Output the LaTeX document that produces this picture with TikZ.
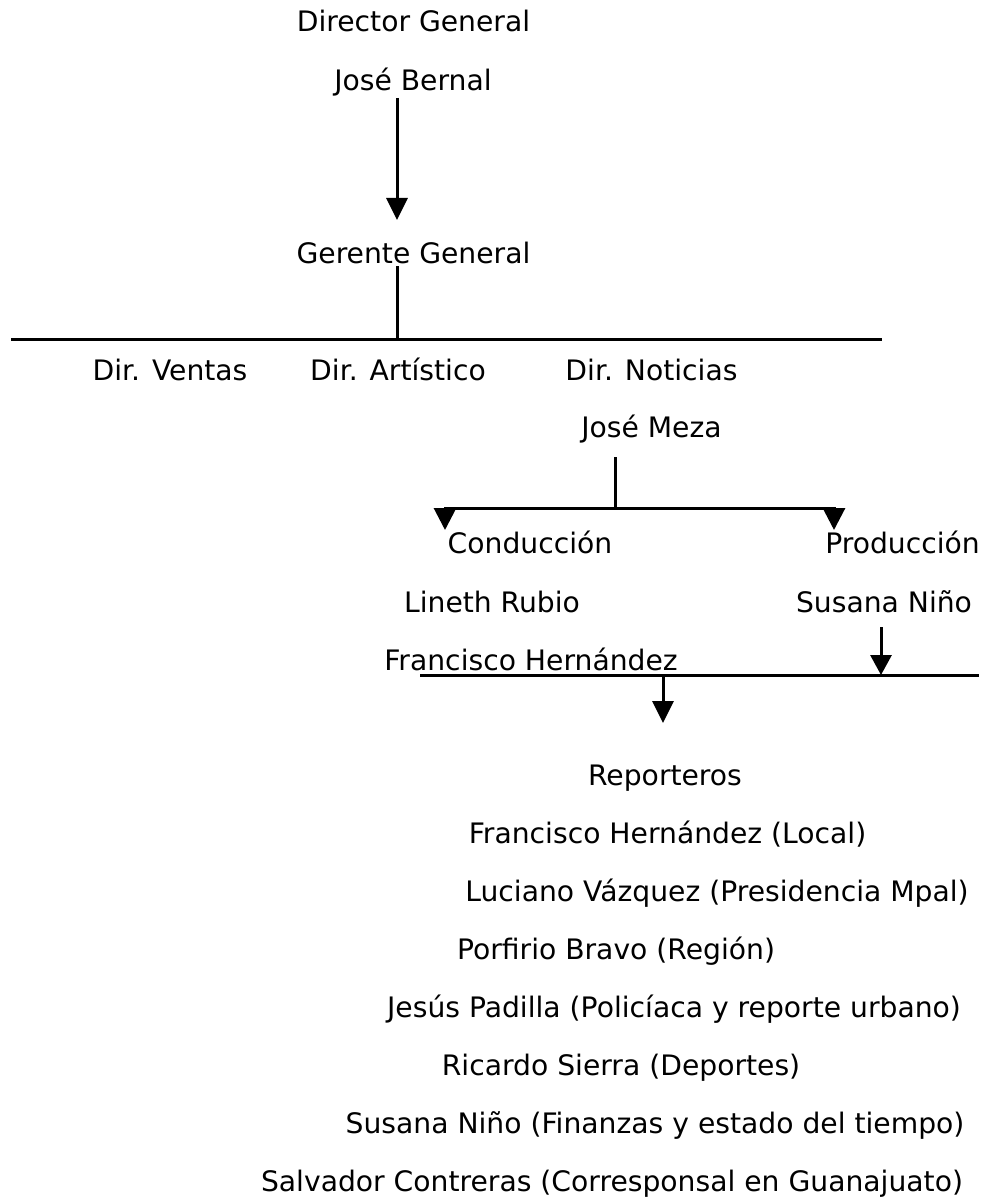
\documentclass[tikz,border=0pt]{standalone}
\usepackage{fontspec}
\setmainfont{DejaVu Sans}
\usetikzlibrary{arrows.meta}
\begin{document}
\begin{tikzpicture}[x=1pt,y=-1pt,
  lbl/.style={anchor=base, inner sep=0pt, font=\fontsize{28.2}{34}\selectfont},
  conn/.style={line width=3pt, line join=miter},
  arr/.style={conn, -{Triangle[length=22pt,width=21pt]}},
  arrs/.style={conn, -{Triangle[length=20pt,width=21pt]}},
  arrb/.style={conn, {Triangle[length=22pt,width=22pt]}-{Triangle[length=22pt,width=22pt]}}]
\useasboundingbox (0,0) rectangle (984,1198);
% nodes
\node[lbl] (dg) at (413.5,32) {Director General};
\node[lbl] (jb) at (413,91) {José Bernal};
\node[lbl] (gg) at (413.5,263) {Gerente General};
\node[lbl] (dv) at (170,380) {Dir. Ventas};
\node[lbl] (da) at (398,380) {Dir. Artístico};
\node[lbl] (dn) at (651.5,380) {Dir. Noticias};
\node[lbl] (jm) at (651.5,437) {José Meza};
\node[lbl] (cond) at (530,553) {Conducción};
\node[lbl] (prod) at (902.5,553) {Producción};
\node[lbl] (lr) at (492,612) {Lineth Rubio};
\node[lbl] (sn) at (884,612) {Susana Niño};
\node[lbl] (fh) at (531,670) {Francisco Hernández};
\node[lbl] (rep) at (665,785) {Reporteros};
\node[lbl] (r1) at (667.5,843) {Francisco Hernández (Local)};
\node[lbl] (r2) at (717,901) {Luciano Vázquez (Presidencia Mpal)};
\node[lbl] (r3) at (616,959) {Porfirio Bravo (Región)};
\node[lbl] (r4) at (674,1017) {Jesús Padilla (Policíaca y reporte urbano)};
\node[lbl] (r5) at (621,1075) {Ricardo Sierra (Deportes)};
\node[lbl] (r6) at (655,1133) {Susana Niño (Finanzas y estado del tiempo)};
\node[lbl] (r7) at (612,1191) {Salvador Contreras (Corresponsal en Guanajuato)};
% connector points
\coordinate (a1) at (397,98);
\coordinate (a2) at (397,220);
\coordinate (g1) at (397,266);
\coordinate (g2) at (397,339);
\coordinate (hl) at (11,339);
\coordinate (hr) at (882,339);
\coordinate (m1) at (615,457);
\coordinate (m2) at (615,508);
\coordinate (cl) at (445,508);
\coordinate (cr) at (834,508);
\coordinate (clt) at (445,530);
\coordinate (crt) at (834,530);
\coordinate (s1) at (881,627);
\coordinate (s2) at (881,675);
\coordinate (pl) at (420,675);
\coordinate (pr) at (979,675);
\coordinate (p1) at (663,675);
\coordinate (p2) at (663,723);
% connectors
\draw[arr] (a1) -- (a2);
\draw[conn] (g1) -- (g2);
\draw[conn] (hl) -- (hr);
\draw[conn] (m1) -- (m2);
\draw[arrb] (clt) -- (cl) -- (cr) -- (crt);
\draw[arrs] (s1) -- (s2);
\draw[conn] (pl) -- (pr);
\draw[arr] (p1) -- (p2);
\end{tikzpicture}
\end{document}
